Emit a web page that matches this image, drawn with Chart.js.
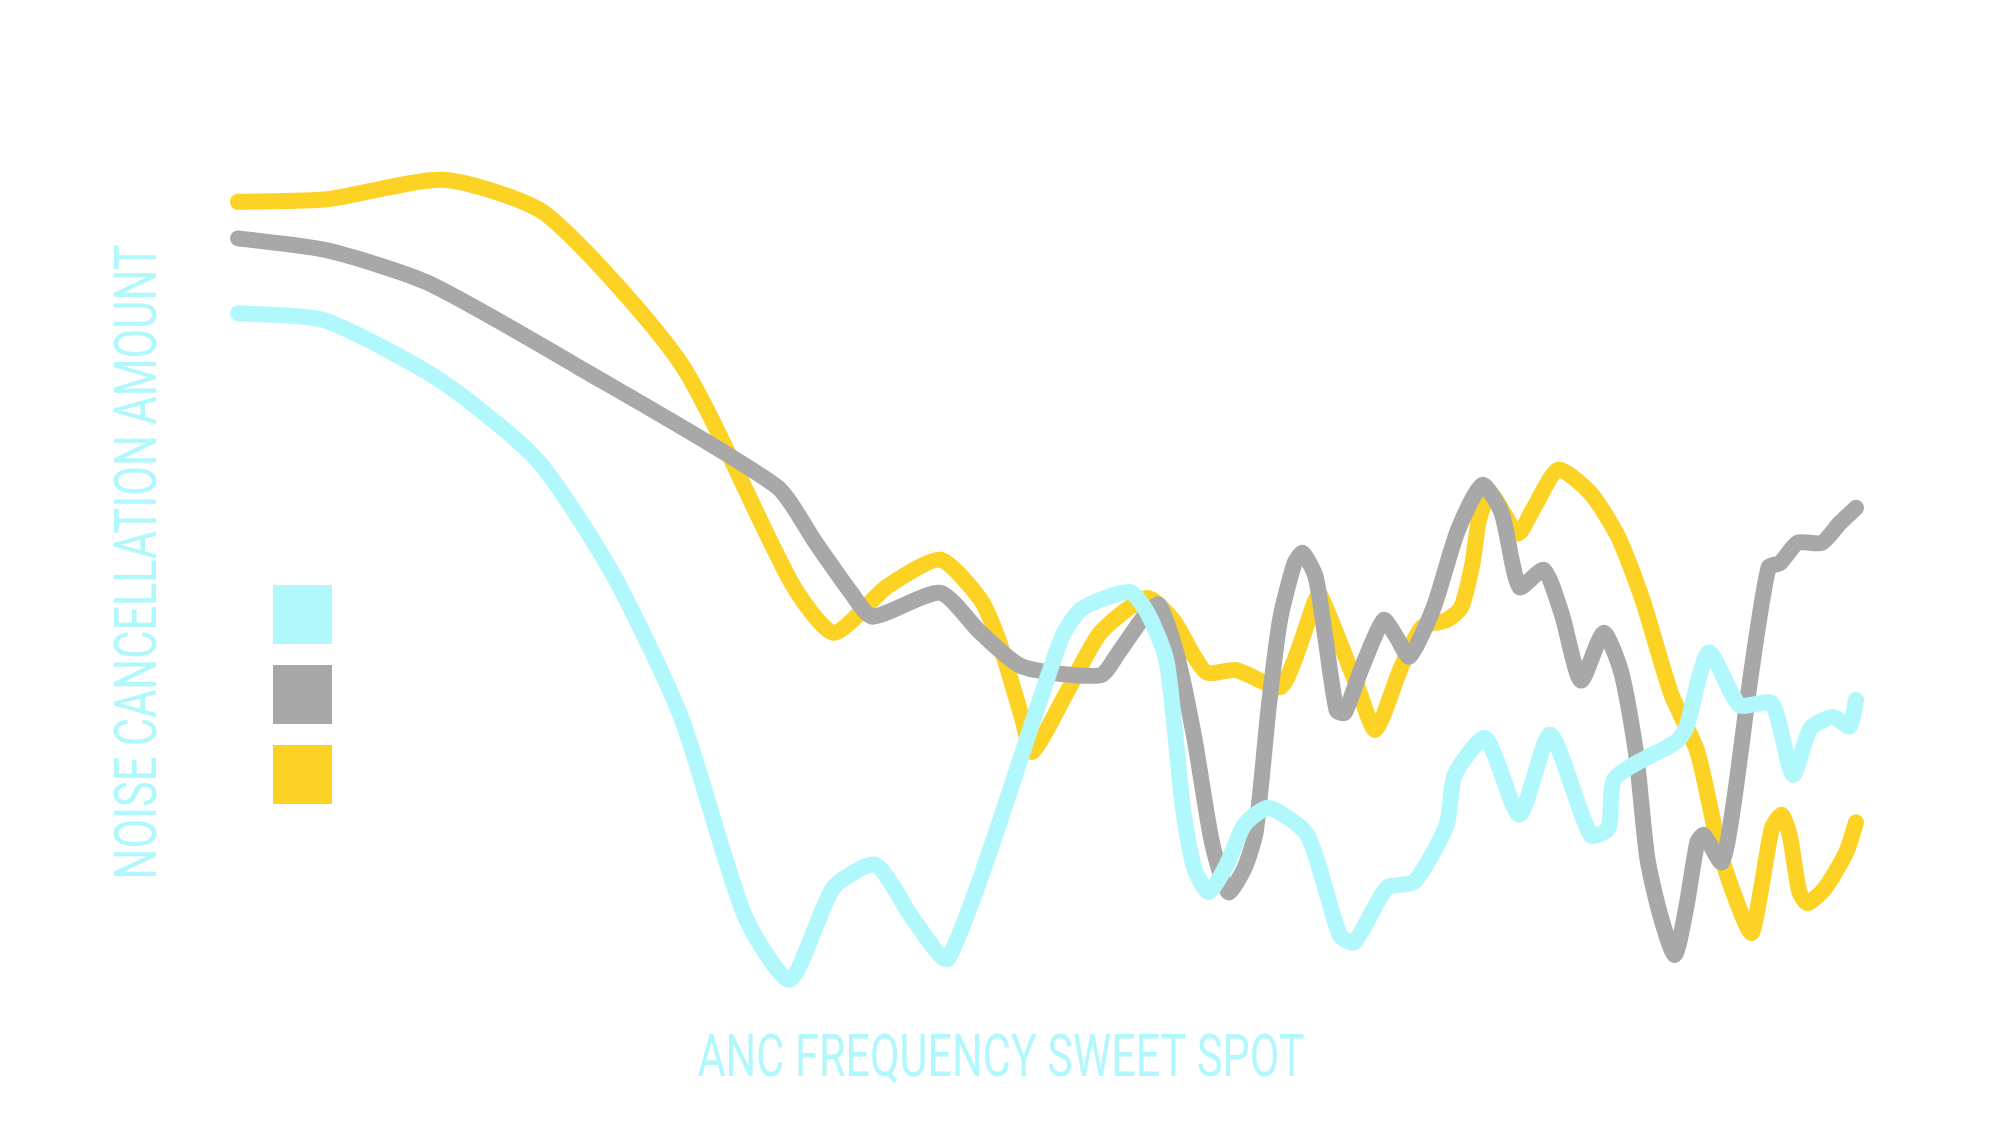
<!DOCTYPE html>
<html>
<head>
<meta charset="utf-8">
<title>ANC frequency sweet spot</title>
<script src="https://cdn.jsdelivr.net/npm/chart.js@4.4.1/dist/chart.umd.min.js"></script>
<style>
  html, body { margin: 0; padding: 0; background: #fff; }
  #wrap { width: 2000px; height: 1125px; position: relative; }
</style>
</head>
<body>
<div id="wrap"><canvas id="chart"></canvas></div>
<script>
/* Noise cancellation amount vs frequency, three headphones.
   x = frequency position (0..100), y = cancellation amount (0..100). */

const CYAN = "#b0f8fc";
const GRAY = "#a8a8a8";
const YELLOW = "#fcd224";

const X_TITLE = "ANC FREQUENCY SWEET SPOT";
const Y_TITLE = "NOISE CANCELLATION AMOUNT";

const cyanX = [0, 5.3, 12.5, 18.5, 23.2, 27.4, 31.3, 34.1, 36.8, 39.4, 41.7, 43.9, 50.9, 52.2, 55.1, 56.2, 57.4, 58.4, 59.1, 60.0, 61.1, 62.2, 63.7, 66.1, 68.1, 69.0, 71.0, 72.7, 74.7, 75.2, 77.1, 79.2, 81.1, 83.6, 84.7, 85.1, 88.9, 89.5, 90.9, 92.8, 94.8, 96.1, 97.2, 98.6, 99.6, 100];
const cyanY = [80.8, 80.0, 72.9, 63.5, 50.0, 33.2, 10.0, 2.4, 13.2, 15.9, 9.6, 4.9, 42.6, 46.1, 48.0, 45.6, 39.8, 22.6, 15.5, 12.7, 15.9, 20.6, 22.6, 19.4, 7.6, 6.8, 13.2, 13.9, 20.6, 26.5, 30.8, 21.8, 31.2, 19.4, 20.2, 26.1, 30.4, 32.0, 40.9, 34.7, 34.9, 26.5, 32.0, 33.3, 32.2, 35.3];

const grayX = [0, 5.5, 11.7, 21.0, 33.3, 35.7, 37.9, 39.2, 43.4, 45.9, 48.5, 53.3, 54.4, 56.0, 56.9, 58.0, 59.1, 60.2, 61.2, 62.2, 62.9, 63.7, 64.4, 65.3, 65.8, 66.6, 67.2, 67.9, 68.4, 69.4, 70.8, 71.6, 72.4, 73.9, 75.4, 76.9, 78.1, 79.2, 80.7, 81.8, 83.0, 84.4, 85.5, 86.4, 87.1, 87.9, 88.8, 89.5, 90.2, 90.6, 91.7, 92.4, 93.5, 94.6, 95.3, 96.4, 97.9, 99.0, 100];
const grayY = [89.6, 88.2, 84.4, 74.5, 60.4, 53.8, 47.9, 45.1, 47.9, 43.2, 39.2, 38.2, 40.8, 45.1, 46.5, 40.8, 30.9, 18.5, 12.7, 15.5, 19.8, 34.4, 44.7, 51.4, 52.6, 49.8, 42.7, 34.1, 33.8, 38.8, 44.7, 42.7, 40.4, 46.2, 55.3, 60.6, 57.3, 48.6, 50.6, 45.5, 37.6, 43.2, 38.5, 29.1, 16.7, 10.0, 5.3, 10.8, 18.6, 19.4, 16.2, 22.6, 38.2, 50.9, 51.4, 53.8, 53.8, 56.1, 57.9];

const yellowX = [0, 5.5, 12.7, 19.0, 27.4, 34.2, 36.8, 40.1, 43.4, 45.9, 47.0, 48.5, 49.1, 51.2, 53.3, 56.2, 57.8, 59.1, 59.9, 61.7, 64.4, 65.3, 66.6, 66.9, 69.2, 70.3, 71.9, 73.2, 74.7, 75.6, 76.3, 76.7, 77.4, 79.1, 80.0, 81.6, 83.6, 85.3, 86.8, 88.6, 90.2, 91.7, 93.5, 94.1, 94.8, 95.4, 95.9, 96.5, 97.0, 98.1, 99.4, 100];
const yellowY = [93.9, 94.2, 96.5, 92.5, 74.8, 49.1, 43.2, 48.6, 51.8, 47.1, 42.4, 32.9, 29.2, 36.1, 43.2, 47.3, 44.7, 40.4, 38.5, 38.8, 36.8, 40.0, 47.1, 47.6, 36.8, 31.8, 39.2, 43.9, 44.7, 46.2, 51.4, 56.5, 59.6, 54.9, 57.6, 62.4, 59.6, 54.5, 47.1, 35.9, 29.2, 16.7, 7.9, 12.7, 20.2, 21.8, 19.4, 12.7, 11.4, 13.2, 17.4, 20.9];

function pts(xs, ys) { return xs.map((x, i) => ({ x, y: ys[i] })); }

function line(label, xs, ys, color) {
  return {
    label, data: pts(xs, ys),
    borderColor: color, backgroundColor: color,
    borderWidth: 16, borderCapStyle: "round", borderJoinStyle: "round",
    pointRadius: 0, tension: 0.22, clip: false, fill: false,
  };
}

// axis titles (condensed) + colour key squares with no text
const decor = {
  id: "decor",
  afterDraw(chart) {
    const ctx = chart.ctx;
    ctx.save();
    ctx.fillStyle = CYAN;
    ctx.font = "400 60px Roboto, 'Open Sans', sans-serif";
    ctx.textAlign = "center";
    ctx.textBaseline = "alphabetic";

    // x title: spans 698..1305, baseline 1076
    let w = ctx.measureText(X_TITLE).width;
    ctx.save();
    ctx.translate(1001, 1076);
    ctx.scale(607 / w, 1);
    ctx.fillText(X_TITLE, 0, 0);
    ctx.restore();

    // y title: rotated, spans y 245..880, baseline at x 156
    w = ctx.measureText(Y_TITLE).width;
    ctx.save();
    ctx.translate(156, 562);
    ctx.rotate(-Math.PI / 2);
    ctx.scale(635 / w, 1);
    ctx.fillText(Y_TITLE, 0, 0);
    ctx.restore();

    // key squares, same order as datasets
    chart.data.datasets.forEach((ds, i) => {
      ctx.fillStyle = ds.borderColor;
      ctx.fillRect(273, 585 + i * 80, 59, 59);
    });
    ctx.restore();
  },
};

new Chart(document.getElementById("chart"), {
  type: "line",
  data: {
    datasets: [
      line("Headphone A", cyanX, cyanY, CYAN),
      line("Headphone B", grayX, grayY, GRAY),
      line("Headphone C", yellowX, yellowY, YELLOW),
    ],
  },
  options: {
    responsive: true, maintainAspectRatio: false, animation: false,
    layout: { padding: { left: 238, right: 144, top: 150, bottom: 125 } },
    plugins: { legend: { display: false }, tooltip: { enabled: false } },
    scales: {
      x: { type: "linear", min: 0, max: 100, display: false },
      y: { min: 0, max: 100, display: false },
    },
  },
  plugins: [decor],
});
</script>
</body>
</html>
